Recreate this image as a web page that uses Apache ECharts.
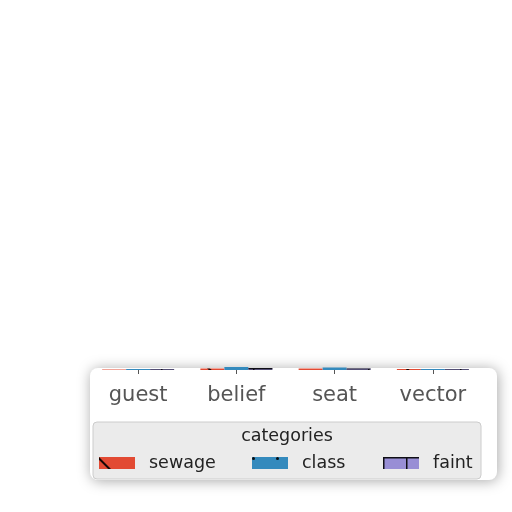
<!DOCTYPE html>
<html><head><meta charset="utf-8">
<script src="https://cdn.jsdelivr.net/npm/echarts@6/dist/echarts.min.js"></script>
<style>html,body{margin:0;padding:0;background:#fff}#c{width:512px;height:512px}</style>
</head><body><div id="c"></div>
<script>
var categories = ['guest', 'belief', 'seat', 'vector'];
var seriesNames = ['sewage', 'class', 'faint'];
var sewage = [0.5, 1.5, 1.5, 1];
var classVals = [1, 3, 2.5, 1];
var faint = [1, 2, 1.5, 1];
var colors = ['#E24A33', '#348ABD', '#988ED5'];

var decals = [
  {symbol: 'rect', symbolSize: 1, color: 'rgba(0,0,0,0.9)', dashArrayX: [[1, 0]], dashArrayY: [1.5, 26], rotation: Math.PI / 4},
  {symbol: 'circle', symbolSize: 1, color: 'rgba(0,0,0,0.9)', dashArrayX: [[2.5, 20.5]], dashArrayY: [2.5, 20.5]},
  {symbol: 'path://M0 0H23V1.5H0Z M0 0H1.5V23H0Z', symbolSize: 1, color: 'rgba(0,0,0,0.9)', dashArrayX: [[23, 0]], dashArrayY: [23, 0]}
];
var vals = [sewage, classVals, faint];

var chart = echarts.init(document.getElementById('c'));
var legendLefts = [99, 252, 383];
chart.setOption({
  animation: false,
  aria: {enabled: false},
  graphic: [
    {type: 'rect', z: -10, shape: {x: 90, y: 368, width: 407, height: 112, r: 8},
     style: {fill: '#fff', shadowBlur: 14, shadowColor: 'rgba(0,0,0,0.35)', shadowOffsetX: 1, shadowOffsetY: 1}},
    {type: 'rect', z: -5, shape: {x: 93, y: 422, width: 388, height: 57, r: 4},
     style: {fill: '#EBEBEB', stroke: '#CCCCCC', lineWidth: 1}},
    {type: 'text', z: 5, x: 287, y: 436,
     style: {text: 'categories', font: '17.5px "DejaVu Sans"', fill: '#222', align: 'center', verticalAlign: 'middle'}}
  ],
  grid: {left: 89, right: 30, top: 366, height: 4},
  xAxis: {
    type: 'category', data: categories,
    axisLine: {show: false},
    axisTick: {show: true, alignWithLabel: true, length: 4, lineStyle: {color: '#555'}},
    axisLabel: {fontFamily: 'DejaVu Sans', fontSize: 21, color: '#555', margin: 15}
  },
  yAxis: {type: 'value', min: 0, max: 4, show: false},
  legend: seriesNames.map(function (n, i) {
    return {data: [n], left: legendLefts[i], top: 454, itemWidth: 36, itemHeight: 12,
      icon: 'rect', padding: 0,
      textStyle: {fontFamily: 'DejaVu Sans', fontSize: 17.5, color: '#222', padding: [0, 0, 0, 9]}};
  }),
  series: seriesNames.map(function (n, i) {
    return {name: n, type: 'bar', data: vals[i], barWidth: 24, barGap: '0%',
      itemStyle: {color: colors[i], decal: decals[i]}};
  })
});
</script></body></html>
